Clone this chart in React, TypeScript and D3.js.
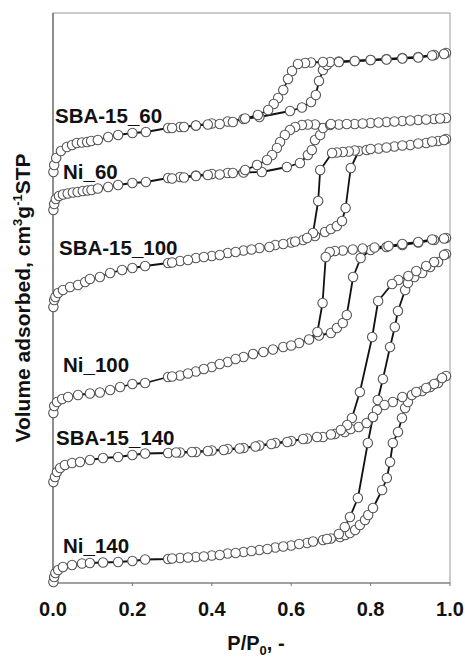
import React from 'react';
import * as d3 from 'd3';

type Pt = [number, number];

// Isotherms: [P/P0, volume adsorbed] for adsorption and desorption branches
const sba60Ads: Pt[] = [[0.001,122],[0.003,136],[0.008,150],[0.02,164],[0.035,172],[0.048,176],[0.06,180],[0.073,181],[0.086,182],[0.096,184],[0.113,186],[0.139,192],[0.164,196],[0.2,200],[0.234,202],[0.29,210],[0.32,212],[0.36,215],[0.40,219],[0.44,223],[0.48,228],[0.52,232],[0.597,244],[0.627,251],[0.650,262],[0.662,276],[0.670,304],[0.680,326],[0.690,336],[0.698,342],[0.72,343],[0.76,344],[0.80,346],[0.84,348],[0.88,350],[0.92,352],[0.96,356],[0.99,360]];
const sba60Des: Pt[] = [[0.985,358],[0.955,355],[0.92,351],[0.88,349],[0.84,347],[0.80,346],[0.76,344],[0.72,342],[0.68,342],[0.65,341],[0.635,340],[0.617,338],[0.602,324],[0.592,308],[0.58,286],[0.567,270],[0.556,258],[0.542,246],[0.516,236],[0.484,229],[0.453,222],[0.42,218],[0.39,217],[0.36,215],[0.33,212],[0.30,210]];

const ni60Ads: Pt[] = [[0.001,146],[0.003,158],[0.007,168],[0.015,174],[0.025,177],[0.037,179],[0.05,181],[0.062,182],[0.075,184],[0.087,185],[0.097,186],[0.113,189],[0.139,192],[0.164,196],[0.2,200],[0.234,202],[0.29,210],[0.32,212],[0.36,215],[0.40,218],[0.44,220],[0.48,221],[0.526,222],[0.589,232],[0.622,240],[0.642,256],[0.652,266],[0.66,286],[0.673,296],[0.68,310],[0.698,316],[0.72,317],[0.76,318],[0.80,320],[0.84,322],[0.88,324],[0.92,326],[0.96,328],[0.99,330]];
const ni60Des: Pt[] = [[0.975,329],[0.94,327],[0.90,325],[0.86,323],[0.82,321],[0.78,319],[0.74,318],[0.70,318],[0.66,317],[0.642,317],[0.627,316],[0.61,312],[0.597,306],[0.584,296],[0.572,282],[0.564,270],[0.552,256],[0.539,246],[0.514,236],[0.484,226],[0.453,220],[0.42,217],[0.39,216],[0.36,214],[0.33,211],[0.30,209]];

const sba100Ads: Pt[] = [[0.001,102],[0.003,116],[0.006,122],[0.013,130],[0.025,136],[0.043,142],[0.063,146],[0.081,152],[0.093,158],[0.118,162],[0.144,170],[0.174,176],[0.2,180],[0.232,184],[0.29,190],[0.32,194],[0.36,200],[0.40,204],[0.44,210],[0.48,215],[0.52,220],[0.56,226],[0.60,231],[0.63,236],[0.66,244],[0.685,252],[0.70,258],[0.715,264],[0.728,274],[0.737,300],[0.75,380],[0.77,414],[0.79,416],[0.82,419],[0.86,423],[0.90,426],[0.94,430],[0.97,434],[0.99,438]];
const sba100Des: Pt[] = [[0.985,436],[0.955,433],[0.92,429],[0.88,425],[0.84,421],[0.80,418],[0.76,415],[0.745,413],[0.73,412],[0.715,411],[0.703,410],[0.673,376],[0.668,314],[0.655,250],[0.64,240],[0.61,233],[0.58,228],[0.545,222],[0.50,217],[0.46,212],[0.42,206],[0.38,202],[0.34,196],[0.30,191]];

const ni100Ads: Pt[] = [[0.001,40],[0.003,54],[0.01,62],[0.023,68],[0.038,72],[0.063,76],[0.093,79],[0.118,81],[0.144,86],[0.169,92],[0.2,98],[0.232,100],[0.29,112],[0.32,115],[0.36,123],[0.40,132],[0.44,142],[0.48,152],[0.53,162],[0.58,172],[0.62,180],[0.67,195],[0.70,200],[0.715,210],[0.73,220],[0.74,236],[0.756,312],[0.775,350],[0.80,366],[0.84,372],[0.88,376],[0.92,381],[0.96,386],[0.99,390]];
const ni100Des: Pt[] = [[0.985,389],[0.955,387],[0.92,382],[0.88,378],[0.845,374],[0.81,371],[0.78,369],[0.755,367],[0.73,365],[0.71,364],[0.697,362],[0.687,352],[0.679,260],[0.666,202],[0.645,187],[0.60,175],[0.554,167],[0.504,158],[0.46,148],[0.42,138],[0.38,128],[0.34,119],[0.30,113]];

const sba140Ads: Pt[] = [[0.001,52],[0.005,62],[0.01,72],[0.018,80],[0.03,86],[0.048,90],[0.068,92],[0.093,96],[0.126,100],[0.164,102],[0.2,106],[0.232,109],[0.29,110],[0.32,111],[0.36,112],[0.40,115],[0.44,118],[0.48,120],[0.52,125],[0.56,130],[0.60,134],[0.64,139],[0.68,142],[0.71,148],[0.735,152],[0.75,158],[0.77,162],[0.79,170],[0.806,182],[0.818,216],[0.831,258],[0.849,322],[0.861,362],[0.869,394],[0.887,436],[0.894,450],[0.91,462],[0.93,470],[0.95,482],[0.97,492],[0.99,508]];
const sba140Des: Pt[] = [[0.985,506],[0.96,492],[0.94,484],[0.915,474],[0.895,464],[0.87,456],[0.854,448],[0.819,414],[0.804,342],[0.773,232],[0.753,180],[0.741,166],[0.725,156],[0.70,147],[0.665,142],[0.63,138],[0.59,132],[0.55,128],[0.51,123],[0.47,119],[0.43,116],[0.39,114],[0.35,112],[0.31,111]];

const ni140Ads: Pt[] = [[0.001,2],[0.003,12],[0.006,20],[0.013,26],[0.025,32],[0.048,36],[0.073,39],[0.093,40],[0.126,41],[0.164,42],[0.2,44],[0.232,47],[0.29,48],[0.32,50],[0.36,52],[0.40,55],[0.44,59],[0.48,62],[0.52,66],[0.56,71],[0.60,75],[0.64,80],[0.68,86],[0.70,89],[0.723,92],[0.736,96],[0.748,100],[0.761,106],[0.773,116],[0.786,126],[0.794,136],[0.806,150],[0.829,186],[0.841,210],[0.849,242],[0.856,280],[0.869,302],[0.879,330],[0.887,350],[0.894,362],[0.904,376],[0.93,384],[0.95,392],[0.97,400],[0.99,414]];
const ni140Des: Pt[] = [[0.98,410],[0.96,398],[0.94,390],[0.915,382],[0.88,372],[0.856,362],[0.835,356],[0.816,346],[0.806,332],[0.793,280],[0.768,170],[0.748,132],[0.735,112],[0.72,98],[0.69,88],[0.655,83],[0.62,78],[0.58,73],[0.54,68],[0.50,64],[0.46,60],[0.42,56],[0.38,53],[0.34,51],[0.30,49]];

const seriesNames = ['SBA-15_60', 'Ni_60', 'SBA-15_100', 'Ni_100', 'SBA-15_140', 'Ni_140'];
// vertical shift applied to each isotherm so they stack
const seriesOffsets = [700, 600, 450, 300, 150, 0];
const seriesBranches: Pt[][][] = [
  [sba60Ads, sba60Des],
  [ni60Ads, ni60Des],
  [sba100Ads, sba100Des],
  [ni100Ads, ni100Des],
  [sba140Ads, sba140Des],
  [ni140Ads, ni140Des],
];
const xTicks = [0, 0.2, 0.4, 0.6, 0.8, 1.0];

// layout
const W = 465;
const H = 657;
const plot = { left: 53, right: 450, top: 13, bottom: 583 };
// series label placement: [x, baseline]
const labelPos: [number, number][] = [[55, 123], [63, 179], [59, 255], [63, 372], [56, 445], [63, 553]];
const FONT = "'Liberation Sans', Arial, Helvetica, sans-serif";

export default function App() {
  const x = d3.scaleLinear().domain([0, 1]).range([plot.left, plot.right]);
  const y = d3.scaleLinear().domain([0, 1140]).range([plot.bottom, plot.top]);

  const lines: JSX.Element[] = [];
  const dots: JSX.Element[] = [];
  seriesBranches.forEach((branches, si) => {
    const off = seriesOffsets[si];
    const gen = d3.line<Pt>().x(d => x(d[0])).y(d => y(d[1] + off));
    branches.forEach((pts, bi) => {
      lines.push(
        <path key={`l${si}-${bi}`} d={gen(pts) || ''} fill="none" stroke="#111" strokeWidth={1.8} strokeLinejoin="round" />
      );
      pts.forEach((d, i) => {
        dots.push(
          <circle key={`c${si}-${bi}-${i}`} cx={x(d[0])} cy={y(d[1] + off)} r={4.7}
            fill="#fff" stroke="#555" strokeWidth={1.1} />
        );
      });
    });
  });

  return (
    <svg width={W} height={H} style={{ position: 'absolute', left: 0, top: 0, background: '#fff' }}
      fontFamily={FONT}>
      <rect x={0} y={0} width={W} height={H} fill="#fff" />
      {/* frame */}
      <rect x={plot.left} y={plot.top} width={plot.right - plot.left} height={plot.bottom - plot.top}
        fill="none" stroke="#9a9a9a" strokeWidth={1} />
      <line x1={plot.left} x2={plot.left} y1={plot.top} y2={plot.bottom} stroke="#666" strokeWidth={1.2} />
      <line x1={plot.left} x2={plot.right} y1={plot.bottom} y2={plot.bottom} stroke="#777" strokeWidth={1.2} />
      {xTicks.map(t => (
        <g key={`t${t}`}>
          <line x1={x(t)} x2={x(t)} y1={plot.bottom} y2={plot.bottom + 3} stroke="#777" strokeWidth={1} />
          <text x={x(t)} y={616} textAnchor="middle" fontSize={20} fontWeight="bold" fill="#111">
            {d3.format('.1f')(t)}
          </text>
        </g>
      ))}
      {lines}
      {dots}
      {seriesNames.map((n, i) => (
        <text key={n} x={labelPos[i][0]} y={labelPos[i][1]} fontSize={20.5} fontWeight="bold" fill="#111">{n}</text>
      ))}
      <text x={256} y={650} textAnchor="middle" fontSize={20} fontWeight="bold" fill="#111">
        P/P<tspan fontSize={13} dy={5}>0</tspan><tspan dy={-5}>, -</tspan>
      </text>
      <text transform="translate(30,298) rotate(-90)" textAnchor="middle" fontSize={21} fontWeight="bold" fill="#111">
        Volume adsorbed, cm<tspan fontSize={13} dy={-8}>3</tspan><tspan dy={8}>g</tspan><tspan fontSize={13} dy={-8}>-1</tspan><tspan dy={8}>STP</tspan>
      </text>
    </svg>
  );
}
